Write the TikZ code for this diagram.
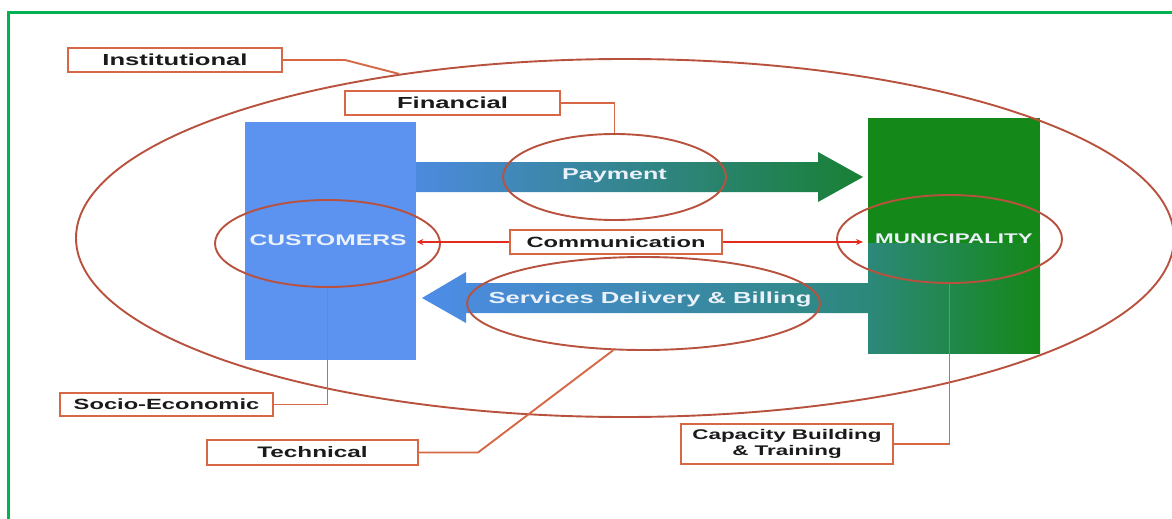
\documentclass[tikz,border=0pt]{standalone}
\usepackage{fontspec}
\setmainfont{Liberation Sans}[FakeStretch=1.6]
\usetikzlibrary{shapes.geometric,arrows.meta}

\definecolor{framegreen}{RGB}{0,178,80}
\definecolor{custblue}{RGB}{92,146,240}
\definecolor{munigreen}{RGB}{20,136,24}
\definecolor{tealmix}{RGB}{44,136,122}
\definecolor{payblue}{RGB}{76,138,222}
\definecolor{paygreen}{RGB}{24,128,52}
\definecolor{servblue}{RGB}{78,140,232}
\definecolor{ringred}{RGB}{184,82,62}
\definecolor{linkred}{RGB}{214,104,70}
\definecolor{commred}{RGB}{226,44,30}
\definecolor{ink}{RGB}{26,26,26}
\definecolor{paletext}{RGB}{234,241,250}

\newcommand{\fs}[1]{\fontsize{#1}{#1}\selectfont}

\begin{document}
\begin{tikzpicture}[x=1pt,y=-1pt,
  tag/.style={draw=linkred, line width=2.2pt, fill=white, inner sep=0pt,
              text=ink, font=\bfseries\fs{15.5}, align=center},
  ring/.style={ellipse, draw=ringred, line width=1.9pt, inner sep=0pt},
  link/.style={draw=linkred, line width=1.9pt},
  commlink/.style={draw=commred, line width=1.6pt,
                   -{Stealth[length=7pt,width=6pt]}},
  inner/.style={text=paletext, inner sep=0pt, anchor=base}
]
\useasboundingbox (0,0) rectangle (1172,519);
\fill[white] (0,0) rectangle (1172,519);

% frame
\draw[framegreen, line width=3pt] (1175,12.5) -- (8.5,12.5) -- (8.5,522);

% the two parties
\node[fill=custblue, minimum width=171pt, minimum height=238pt,
      inner sep=0pt, anchor=north west] (cust) at (245,122) {};
\node[minimum width=172pt, minimum height=235pt, inner sep=0pt,
      anchor=north west] (mun) at (868,118) {};
\fill[munigreen] (868,118) rectangle (1040,243);
\shade[left color=tealmix, right color=munigreen] (868,243) rectangle (1040,353);

% payment flow (customers -> municipality)
\shade[left color=payblue, right color=paygreen]
  (416,162) -- (818,162) -- (818,152) -- (863,177) -- (818,202)
  -- (818,192) -- (416,192) -- cycle;

% services flow (municipality -> customers)
\shade[left color=servblue, right color=tealmix]
  (868,283) -- (466,283) -- (466,272) -- (422,298) -- (466,323)
  -- (466,313) -- (868,313) -- cycle;

% texts on the shapes
\node[inner, font=\bfseries\fs{15.4}] (custT) at (328,245.5) {CUSTOMERS};
\node[inner, font=\bfseries\fs{14}] (munT) at (954,243) {MUNICIPALITY};
\node[inner, font=\bfseries\fs{15.7}] (payT) at (614.5,179.5) {Payment};
\node[inner, font=\bfseries\fs{16}] (servT) at (650,303) {Services Delivery \& Billing};

% rings
\node[ring, minimum width=1098pt, minimum height=358pt] (bigE) at (625,238) {};
\node[ring, minimum width=225pt, minimum height=87pt] (custE) at (327.5,243.5) {};
\node[ring, minimum width=223pt, minimum height=86pt] (payE) at (614.5,177) {};
\node[ring, minimum width=225pt, minimum height=88pt] (munE) at (949.5,239) {};
\node[ring, minimum width=353pt, minimum height=93pt] (servE) at (643.5,303.5) {};

% labels
\node[tag, minimum width=214pt, minimum height=24pt, font=\bfseries\fs{16}]
  (inst) at (175,60) {Institutional};
\node[tag, minimum width=215pt, minimum height=24pt, font=\bfseries\fs{16}]
  (fin) at (452.5,103) {Financial};
\node[tag, minimum width=212pt, minimum height=24pt, font=\bfseries\fs{14.8}]
  (comm) at (616,242) {Communication};
\node[tag, minimum width=213pt, minimum height=23pt, font=\bfseries\fs{14.8}]
  (soc) at (166.5,404.5) {Socio-Economic};
\node[tag, minimum width=211pt, minimum height=25pt, font=\bfseries\fontsize{15.2}{16}\selectfont]
  (tech) at (312.5,452.5) {Technical};
\node[tag, minimum width=212pt, minimum height=40pt, font=\bfseries\fontsize{14}{16}\selectfont]
  (cap) at (787,444) {Capacity Building\\\& Training};

% label leaders
\coordinate (instBend) at (345,60);
\coordinate (techBend) at (478,452.5);
\draw[link] (inst.east) -- (instBend) -- (bigE.144);
\draw[link] (fin.east) -| (payE.north);
\draw[link] (soc.east) -| (custE.south);
\draw[link] (tech.east) -- (techBend) -- (servE.237);
\draw[link] (cap.east) -| (munE.south);

% communication both ways
\draw[commlink] (comm.west) -- (cust.east |- comm.west);
\draw[commlink, shorten >=5pt] (comm.east) -- (mun.west |- comm.east);
\end{tikzpicture}
\end{document}
